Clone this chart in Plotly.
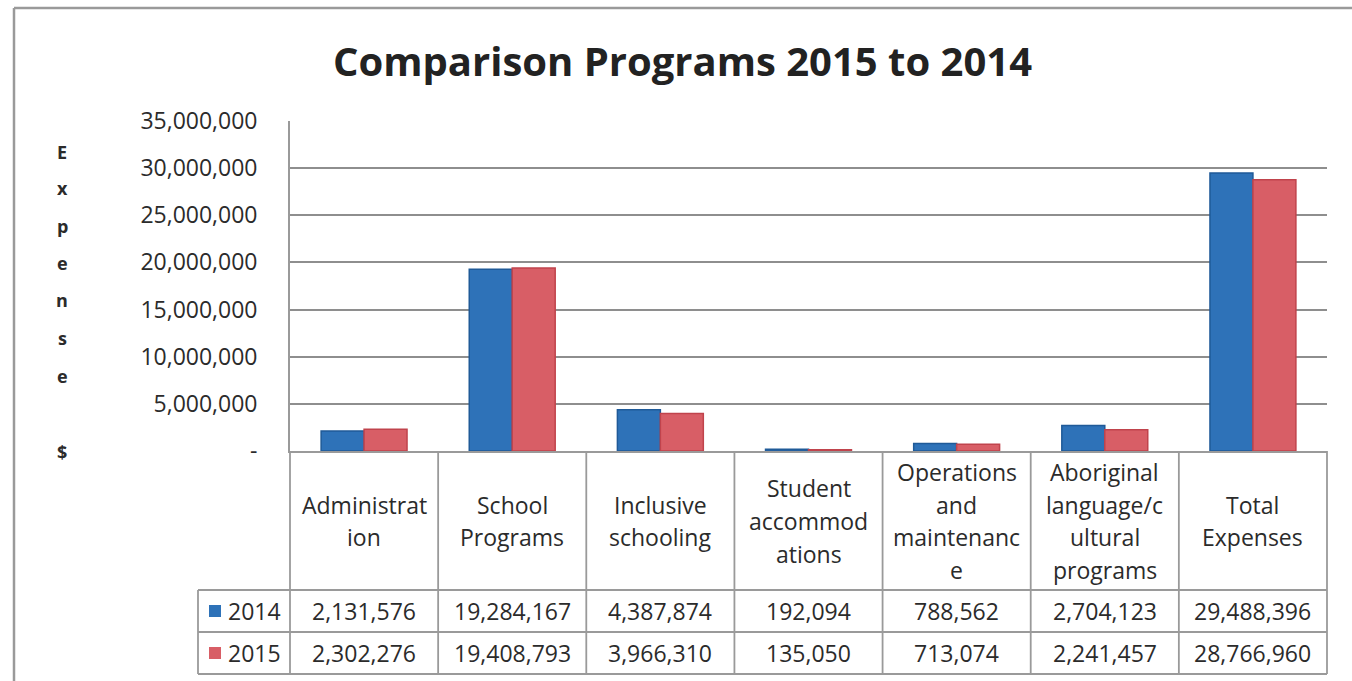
import plotly.graph_objects as go

# ---- data ----
categories = [
    "Administrat\nion",
    "School\nPrograms",
    "Inclusive\nschooling",
    "Student\naccommod\nations",
    "Operations\nand\nmaintenanc\ne",
    "Aboriginal\nlanguage/c\nultural\nprograms",
    "Total\nExpenses",
]
series_names = ["2014", "2015"]
values_2014 = [2131576, 19284167, 4387874, 192094, 788562, 2704123, 29488396]
values_2015 = [2302276, 19408793, 3966310, 135050, 713074, 2241457, 28766960]
tick_values = [0, 5000000, 10000000, 15000000, 20000000, 25000000, 30000000, 35000000]
tick_labels = ["-", "5,000,000", "10,000,000", "15,000,000", "20,000,000",
               "25,000,000", "30,000,000", "35,000,000"]
y_title = "Expense"
y_unit = "$"
title = "Comparison Programs 2015 to 2014"

# ---- layout geometry (pixels) ----
W, H = 1352, 681
PL, PR, PT, PB = 290, 1327, 121, 451          # plot area edges
plot_w, plot_h = PR - PL, PB - PT
n = len(categories)

def px_x(px):
    return (px - PL) / plot_w

def px_y(py):
    return (PB - py) / plot_h

def cat_x(v):
    # axis value -> paper x, for x range [-0.5, n-0.5]
    return (v + 0.5) / n

FONT = "Open Sans"
FS = 23
TXT = "#2b2b2b"
GRID = "#8e8e8e"
LINE = "#9a9a9a"
BLUE, BLUE_EDGE = "#2e72b8", "#1f5a98"
RED, RED_EDGE = "#d85e66", "#c0434c"

xs = list(range(n))
fig = go.Figure()
fig.add_trace(go.Bar(x=xs, y=values_2014, name=series_names[0],
                     marker=dict(color=BLUE, line=dict(color=BLUE_EDGE, width=1.5))))
fig.add_trace(go.Bar(x=xs, y=values_2015, name=series_names[1],
                     marker=dict(color=RED, line=dict(color=RED_EDGE, width=1.5))))

shapes = []
annotations = []

# outer chart frame (left and top edges)
shapes.append(dict(type="line", xref="paper", yref="paper",
                   x0=px_x(14), x1=px_x(14), y0=px_y(8), y1=px_y(H + 5),
                   line=dict(color=LINE, width=2.5)))
shapes.append(dict(type="line", xref="paper", yref="paper",
                   x0=px_x(14), x1=px_x(W + 5), y0=px_y(8), y1=px_y(8),
                   line=dict(color=LINE, width=2.5)))

# data table grid
ROW1, ROW2, ROW3 = 590, 632, 674
LEG_L = 198
for k in range(n + 1):
    xv = cat_x(k - 0.5)
    shapes.append(dict(type="line", xref="paper", yref="paper",
                       x0=xv, x1=xv, y0=px_y(PB), y1=px_y(ROW3),
                       line=dict(color=LINE, width=1.8)))
shapes.append(dict(type="line", xref="paper", yref="paper",
                   x0=px_x(LEG_L), x1=px_x(LEG_L), y0=px_y(ROW1), y1=px_y(ROW3),
                   line=dict(color=LINE, width=1.8)))
for ry in (ROW1, ROW2, ROW3):
    shapes.append(dict(type="line", xref="paper", yref="paper",
                       x0=px_x(LEG_L), x1=1, y0=px_y(ry), y1=px_y(ry),
                       line=dict(color=LINE, width=1.8)))

# category headers, one annotation per wrapped line
HEAD_C, HEAD_STEP = 521, 32.5
for k, label in enumerate(categories):
    lines = label.split("\n")
    for j, line in enumerate(lines):
        yy = HEAD_C + (j - (len(lines) - 1) / 2) * HEAD_STEP
        annotations.append(dict(x=k, xref="x", y=px_y(yy), yref="paper",
                                text=line, showarrow=False,
                                font=dict(family=FONT, size=FS, color=TXT),
                                xanchor="center", yanchor="middle"))

# value rows with legend keys
rows = [(values_2014, series_names[0], BLUE, (ROW1 + ROW2) / 2),
        (values_2015, series_names[1], RED, (ROW2 + ROW3) / 2)]
for vals, name, color, yc in rows:
    for k, v in enumerate(vals):
        annotations.append(dict(x=k, xref="x", y=px_y(yc), yref="paper",
                                text=f"{v:,}", showarrow=False,
                                font=dict(family=FONT, size=FS, color=TXT),
                                xanchor="center", yanchor="middle"))
    shapes.append(dict(type="rect", xref="paper", yref="paper",
                       x0=px_x(209), x1=px_x(221), y0=px_y(yc - 6), y1=px_y(yc + 6),
                       fillcolor=color, line=dict(width=0)))
    annotations.append(dict(x=px_x(226), xref="paper", y=px_y(yc), yref="paper",
                            text=name, showarrow=False,
                            font=dict(family=FONT, size=FS, color=TXT),
                            xanchor="left", yanchor="middle"))

# stacked vertical axis title
letter_y = [152, 188, 226, 263, 300, 338, 376]
for ch, yy in zip(y_title, letter_y):
    annotations.append(dict(x=px_x(62), xref="paper", y=px_y(yy), yref="paper",
                            text=f"<b>{ch}</b>", showarrow=False,
                            font=dict(family=FONT, size=18, color=TXT),
                            xanchor="center", yanchor="middle"))
annotations.append(dict(x=px_x(62), xref="paper", y=px_y(452), yref="paper",
                        text=f"<b>{y_unit}</b>", showarrow=False,
                        font=dict(family=FONT, size=18, color=TXT),
                        xanchor="center", yanchor="middle"))

# title
annotations.append(dict(x=px_x(682), xref="paper", y=px_y(61), yref="paper",
                        text=f"<b>{title}</b>", showarrow=False,
                        font=dict(family=FONT, size=40, color="#222222"),
                        xanchor="center", yanchor="middle"))

fig.update_layout(
    width=W, height=H,
    margin=dict(l=PL, r=W - PR, t=PT, b=H - PB, pad=0),
    paper_bgcolor="white", plot_bgcolor="white",
    barmode="group", bargap=0.42, bargroupgap=0,
    showlegend=False,
    shapes=shapes, annotations=annotations,
    xaxis=dict(range=[-0.5, n - 0.5], showticklabels=False, ticks="",
               showgrid=False, zeroline=False, showline=True,
               linecolor=LINE, linewidth=1.8, fixedrange=True),
    yaxis=dict(range=[0, 35000000], tickvals=tick_values, ticktext=tick_labels,
               showgrid=True, gridcolor=GRID, gridwidth=1.5,
               zeroline=False, showline=True, linecolor=LINE, linewidth=1.8,
               ticks="", ticklabelstandoff=26,
               tickfont=dict(family=FONT, size=FS, color=TXT), fixedrange=True),
)

fig.write_html("out.html")
